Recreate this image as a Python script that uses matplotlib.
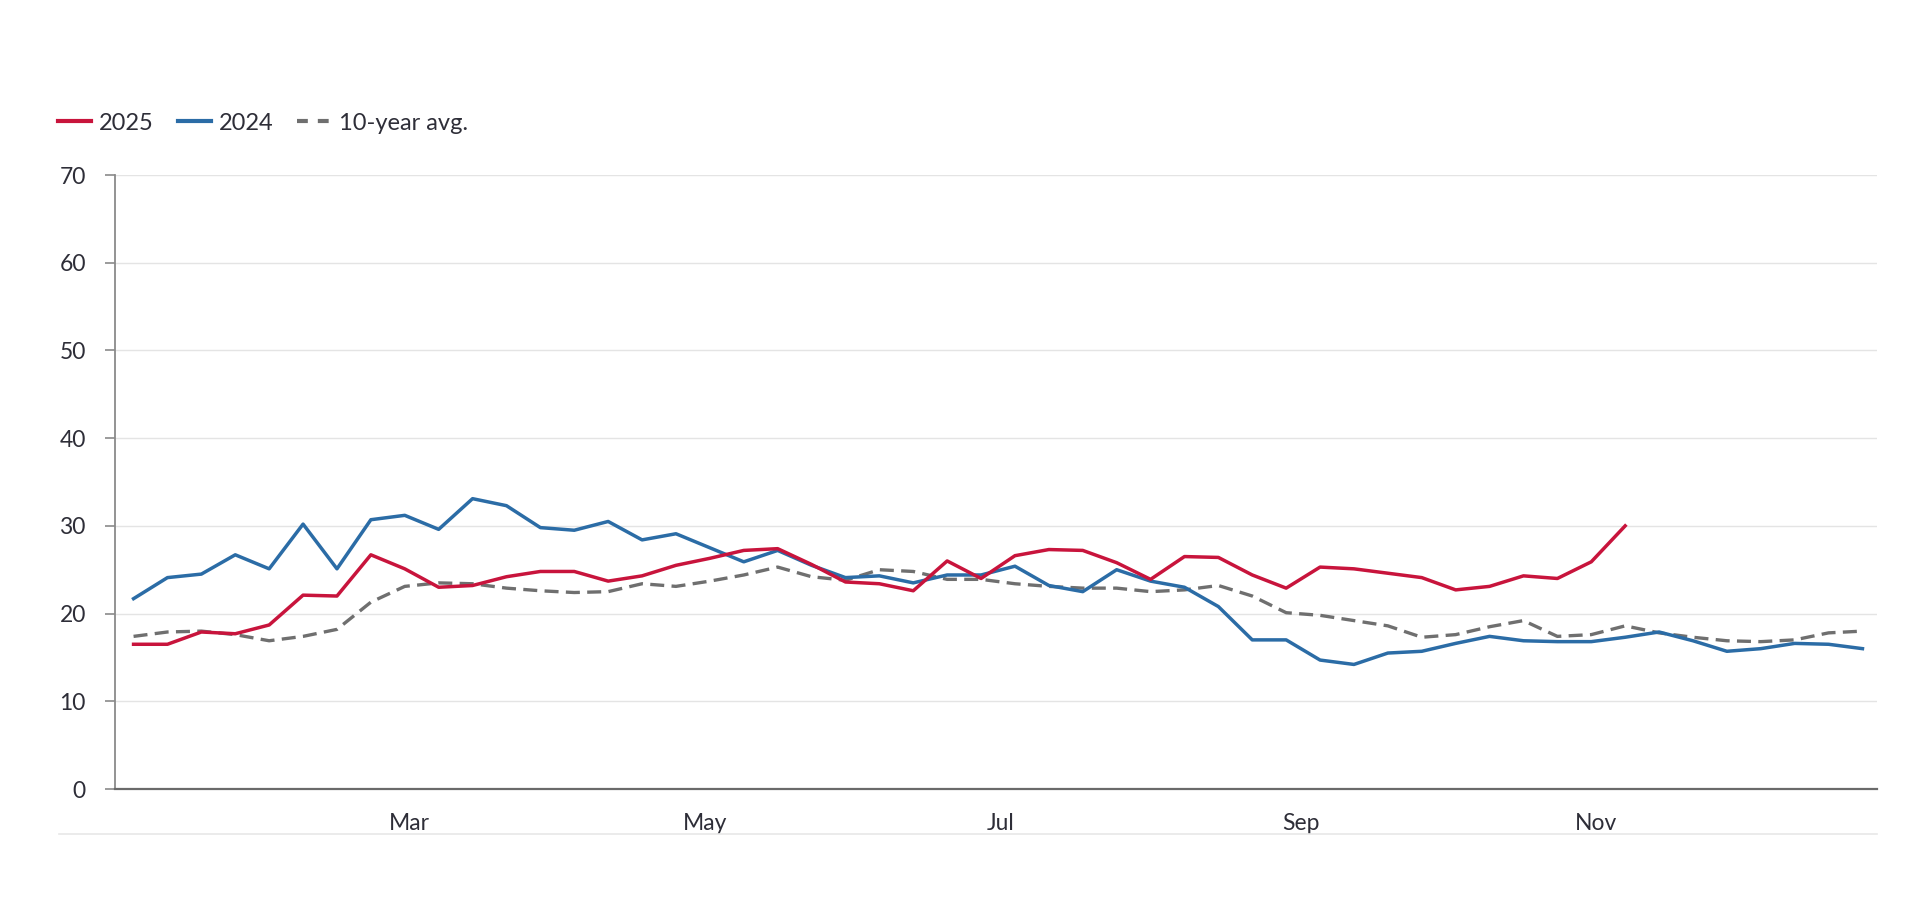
import numpy as np
import pandas as pd
import matplotlib
matplotlib.use("Agg")
import matplotlib.pyplot as plt
import matplotlib.dates as mdates
from matplotlib.lines import Line2D

plt.rcParams['font.family'] = ['Lato', 'DejaVu Sans']

# weekly values, first week ending Jan 3
weeks = pd.date_range('2025-01-03', periods=52, freq='7D')

vals_2025 = [16.5, 16.5, 17.9, 17.7, 18.7, 22.1, 22.0, 26.7, 25.1, 23.0, 23.2, 24.2, 24.8, 24.8, 23.7,
             24.3, 25.5, 26.3, 27.2, 27.4, 25.6, 23.6, 23.4, 22.6, 26.0, 24.0, 26.6, 27.3, 27.2,
             25.8, 23.9, 26.5, 26.4, 24.4, 22.9, 25.3, 25.1, 24.6, 24.1, 22.7, 23.1, 24.3, 24.0,
             25.9, 30.0]
vals_2024 = [21.7, 24.1, 24.5, 26.7, 25.1, 30.2, 25.1, 30.7, 31.2, 29.6, 33.1, 32.3, 29.8, 29.5, 30.5,
             28.4, 29.1, 27.5, 25.9, 27.2, 25.5, 24.1, 24.3, 23.5, 24.4, 24.4, 25.4, 23.2, 22.5,
             25.0, 23.7, 23.0, 20.8, 17.0, 17.0, 14.7, 14.2, 15.5, 15.7, 16.6, 17.4, 16.9, 16.8,
             16.8, 17.3, 17.9, 16.9, 15.7, 16.0, 16.6, 16.5, 16.0]
vals_avg = [17.4, 17.9, 18.0, 17.6, 16.9, 17.4, 18.2, 21.3, 23.1, 23.5, 23.4, 22.9, 22.6, 22.4, 22.5,
            23.4, 23.1, 23.7, 24.4, 25.3, 24.2, 23.8, 25.0, 24.8, 23.9, 23.9, 23.4, 23.1, 22.9,
            22.9, 22.5, 22.7, 23.2, 22.0, 20.1, 19.8, 19.2, 18.6, 17.3, 17.6, 18.5, 19.2, 17.4,
            17.6, 18.6, 17.8, 17.3, 16.9, 16.8, 17.0, 17.8, 18.0]

month_ticks = pd.to_datetime(['2025-03-01', '2025-05-01', '2025-07-01', '2025-09-01', '2025-11-01'])
month_labels = ['Mar', 'May', 'Jul', 'Sep', 'Nov']
y_ticks = [0, 10, 20, 30, 40, 50, 60, 70]

c_red = '#c8143c'
c_blue = '#2b6ca6'
c_gray = '#6f6f6f'
c_text = '#2e2e38'

fig = plt.figure(figsize=(19.2, 9), dpi=100)
ax = fig.add_axes([115/1920, 1-789/900, (1877-115)/1920, (789-175)/900])

ax.plot(weeks, vals_avg, color=c_gray, lw=2.4, ls=(0, (4.2, 2.2)), zorder=3)
ax.plot(weeks, vals_2024, color=c_blue, lw=2.5, zorder=4)
ax.plot(weeks[:len(vals_2025)], vals_2025, color=c_red, lw=2.5, zorder=5)

ax.set_ylim(0, 70)
ax.set_xlim(pd.Timestamp('2024-12-30 04:00'), pd.Timestamp('2025-12-29'))
ax.set_yticks(y_ticks)
ax.set_xticks(month_ticks)
ax.set_xticklabels(month_labels)

ax.grid(axis='y', color='#e4e4e4', lw=1.0)
ax.set_axisbelow(True)
for s in ['top', 'right']:
    ax.spines[s].set_visible(False)
ax.spines['left'].set_color('#8a8a8a')
ax.spines['left'].set_linewidth(1.3)
ax.spines['bottom'].set_color('#6a6a6a')
ax.spines['bottom'].set_linewidth(1.6)

ax.tick_params(axis='y', length=7, width=1.2, color='#8a8a8a', pad=14,
               labelsize=16.5, labelcolor=c_text)
ax.tick_params(axis='x', length=0, pad=17, labelsize=16.5, labelcolor=c_text)

# faint line under the x labels
fig.add_artist(Line2D([59/1920, 1877/1920], [1-834/900, 1-834/900],
                      color='#e8e8e8', lw=1.2, transform=fig.transFigure))

handles = [Line2D([], [], color=c_red, lw=3),
           Line2D([], [], color=c_blue, lw=3),
           Line2D([], [], color=c_gray, lw=3, ls=(0, (2.6, 2.4)))]
fig.legend(handles, ['2025', '2024', '10-year avg.'], loc='center left',
           bbox_to_anchor=(58/1920, 1-123/900), ncol=3, frameon=False,
           fontsize=17, handlelength=1.4, handletextpad=0.35, columnspacing=1.0,
           borderpad=0, borderaxespad=0, labelcolor=c_text)

fig.savefig('out.png', dpi=100, facecolor='white')
